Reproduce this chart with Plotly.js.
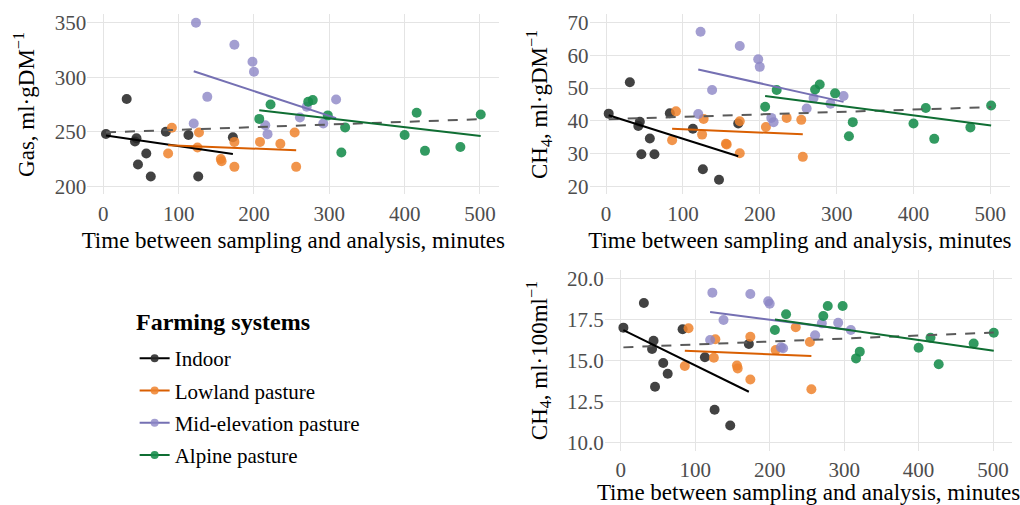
<!DOCTYPE html>
<html>
<head>
<meta charset="utf-8">
<script src="https://cdn.plot.ly/plotly-3.0.1.min.js"></script>
<style>html,body{margin:0;padding:0;background:#fff;}#chart{width:1020px;height:505px;}</style>
</head>
<body>
<div id="chart"></div>
<script>
// ---- data ----
const legendTitle = "Farming systems";
const groups = ["Indoor", "Lowland pasture", "Mid-elevation pasture", "Alpine pasture"];

const indoorTime = [3.5, 31, 42, 44, 46, 57, 63, 83, 113, 126, 147, 172];
const indoorGas  = [248, 280, 241, 244, 220, 230, 209, 250, 247, 209, null, 245];
const indoorCH4  = [42.2, 51.8, 38.4, 39.7, 29.8, 34.6, 29.8, 42.3, 37.6, 25.2, 22.0, 39.2];
const indoorConc = [17.0, 18.5, 15.7, 16.2, 13.4, 14.85, 14.2, 16.9, 15.2, 12.0, 11.05, 16.0];

const lowTime = [86, 91, 125, 127, 156, 157, 174, 174, 208, 235, 254, 256];
const lowGas  = [230, 253.6, 235.5, 249.3, 225, 223, 240.7, 217.8, 240.7, 239, 249.3, 217.8];
const lowCH4  = [34.1, 42.9, 35.8, 40.6, 33.0, 32.8, 39.9, 30.1, 38.1, 40.9, 40.3, 29.0];
const lowConc = [14.67, 16.96, 15.17, 16.29, 14.69, 14.52, 16.45, 13.85, 15.64, 17.02, 16.13, 13.25];

const midTime = [120, 123, 138, 174, 198, 200, 215, 218, 261, 270, 292, 309];
const midGas  = [257.6, 350, 282, 329.8, 314.2, 305, 256, 247.8, 263, 273, 257.6, 279.6];
const midCH4  = [42.1, 67.2, 49.4, 62.9, 58.8, 56.5, 40.9, 39.6, 43.8, 47.0, 45.2, 47.6];
const midConc = [16.25, 19.13, 17.46, 19.05, 18.6, 18.45, 15.8, 15.75, 16.53, 17.26, 17.3, 16.86];

const alpTime = [207, 222, 272, 278, 298, 316, 321, 400, 416, 427, 474, 501];
const alpGas  = [261.8, 275, 277.5, 279, 265, 231, 254, 247, 267.4, 232.5, 236.1, 265.8];
const alpCH4  = [44.3, 49.4, 49.6, 51.1, 48.4, 35.3, 39.6, 39.2, 43.9, 34.5, 38.0, 44.7];
const alpConc = [16.86, 17.81, 17.71, 18.32, 18.32, 15.13, 15.54, 15.78, 16.39, 14.77, 16.04, 16.69];

// fitted trend lines (end points)
const fitIndoorTime = [3.5, 172];
const fitIndoorGas  = [246.5, 229.5];
const fitIndoorCH4  = [41.7, 29.2];
const fitIndoorConc = [16.85, 13.1];

const fitLowTime = [86, 256];
const fitLowGas  = [237.7, 233];
const fitLowCH4  = [37.55, 35.9];
const fitLowConc = [15.6, 15.27];

const fitMidTime = [120, 309];
const fitMidGas  = [305.5, 262.5];
const fitMidCH4  = [55.7, 45.8];
const fitMidConc = [17.95, 16.85];

const fitAlpTime = [207, 501];
const fitAlpGas  = [269.8, 246];
const fitAlpCH4  = [47.6, 38.6];
const fitAlpConc = [17.5, 15.6];

const fitAllTime = [3.5, 501];
const fitAllGas  = [249.5, 261.5];
const fitAllCH4  = [40.5, 44.2];
const fitAllConc = [15.8, 16.7];

const xTicks = [0, 100, 200, 300, 400, 500];
const gasTicks = [200, 250, 300, 350];
const ch4Ticks = [20, 30, 40, 50, 60, 70];
const concTicks = [10, 12.5, 15, 17.5, 20];

// ---- styling ----
const FONT = "Liberation Serif, Times New Roman, serif";
const pointCol = ["rgba(40,40,40,0.88)", "rgba(238,130,45,0.85)", "rgba(140,134,198,0.8)", "rgba(22,140,75,0.88)"];
const lineCol = ["#000000", "#d95f02", "#7570b3", "#0f6e33"];

const series = [
  {t: indoorTime, v: [indoorGas, indoorCH4, indoorConc], ft: fitIndoorTime, fv: [fitIndoorGas, fitIndoorCH4, fitIndoorConc]},
  {t: lowTime, v: [lowGas, lowCH4, lowConc], ft: fitLowTime, fv: [fitLowGas, fitLowCH4, fitLowConc]},
  {t: midTime, v: [midGas, midCH4, midConc], ft: fitMidTime, fv: [fitMidGas, fitMidCH4, fitMidConc]},
  {t: alpTime, v: [alpGas, alpCH4, alpConc], ft: fitAlpTime, fv: [fitAlpGas, fitAlpCH4, fitAlpConc]}
];
const allFit = [fitAllGas, fitAllCH4, fitAllConc];
const axes = [["x", "y"], ["x2", "y2"], ["x3", "y3"]];

const traces = [];
for (let p = 0; p < 3; p++) {
  const [xa, ya] = axes[p];
  series.forEach((s, g) => {
    traces.push({type: "scatter", mode: "markers", x: s.t, y: s.v[p], xaxis: xa, yaxis: ya,
      marker: {color: pointCol[g], size: 10, line: {width: 0}}, showlegend: false, hoverinfo: "skip"});
  });
  traces.push({type: "scatter", mode: "lines", x: fitAllTime, y: allFit[p], xaxis: xa, yaxis: ya,
    line: {color: "#5a5a5a", width: 2, dash: "10px,9px"}, showlegend: false, hoverinfo: "skip"});
  [0, 1, 2, 3].forEach(g => {
    const s = series[g];
    traces.push({type: "scatter", mode: "lines", x: s.ft, y: s.fv[p], xaxis: xa, yaxis: ya,
      line: {color: lineCol[g], width: 2}, showlegend: false, hoverinfo: "skip"});
  });
}
// legend entries (no data drawn)
groups.forEach((name, g) => {
  traces.push({type: "scatter", mode: "lines+markers", name: name, x: [null], y: [null],
    legendgroup: "g" + g,
    line: {color: lineCol[g], width: 2}, marker: {color: pointCol[g], size: 8}});
});

const tickFont = {family: FONT, size: 21, color: "#4d4d4d"};
const titleFont = {family: FONT, size: 23, color: "#000"};
function xAxis(domain, anchor, tls, st) {
  return {domain: domain, anchor: anchor, range: [-21.4, 525.8], tickvals: xTicks, showgrid: true,
    gridcolor: "#e4e4e4", gridwidth: 1, zeroline: false, showline: false, ticks: "",
    ticklabelstandoff: tls,
    tickfont: tickFont, title: {text: "Time between sampling and analysis, minutes", font: titleFont, standoff: st}};
}
function yAxis(domain, anchor, range, ticks, title, fmt) {
  return {domain: domain, anchor: anchor, range: range, tickvals: ticks, tickformat: fmt || "",
    showgrid: true, gridcolor: "#e4e4e4", gridwidth: 1, zeroline: false, showline: false, ticks: "",
    tickfont: tickFont, title: {text: title, font: titleFont, standoff: 13}};
}

const layout = {
  width: 1020, height: 505,
  margin: {l: 0, r: 0, t: 0, b: 0},
  paper_bgcolor: "#fff", plot_bgcolor: "#fff",
  font: {family: FONT},
  xaxis: xAxis([0.0855, 0.4896], "y", 5, 6),
  yaxis: yAxis([0.6149, 0.9713], "x", [192.5, 357.5], gasTicks, "Gas, ml·gDM<sup>−1</sup>"),
  xaxis2: xAxis([0.578, 0.9904], "y2", 5, 6),
  yaxis2: yAxis([0.6149, 0.9713], "x2", [17.5, 72.5], ch4Ticks, "CH<sub>4</sub>, ml·gDM<sup>−1</sup>"),
  xaxis3: xAxis([0.593, 0.9924], "y3", 4, 6),
  yaxis3: yAxis([0.1071, 0.4651], "x3", [9.5, 20.5], concTicks, "CH<sub>4</sub>, ml·100ml<sup>−1</sup>", ".1f"),
  showlegend: true,
  legend: {x: 0.132, y: 0.3307, xanchor: "left", yanchor: "top", bgcolor: "rgba(0,0,0,0)",
    tracegroupgap: 2,
    font: {family: FONT, size: 21, color: "#000"}},
  annotations: [{text: "<b>" + legendTitle + "</b>", xref: "paper", yref: "paper",
    x: 0.1314, y: 0.3624, xanchor: "left", yanchor: "middle", showarrow: false,
    font: {family: FONT, size: 24, color: "#000"}}]
};

Plotly.newPlot("chart", traces, layout, {staticPlot: true, displayModeBar: false});
</script>
</body>
</html>
